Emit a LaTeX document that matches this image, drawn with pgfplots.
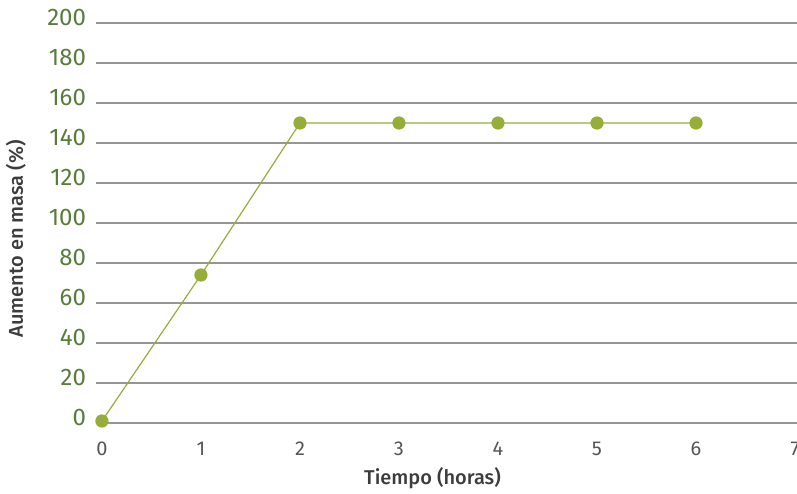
\documentclass[border=0pt]{standalone}
\usepackage{fontspec}
\setmainfont{Fira Sans}[BoldFont={Fira Sans Medium}]
\usepackage{pgfplots}
\pgfplotsset{compat=1.18}

\definecolor{tickgreen}{RGB}{88,125,58}
\definecolor{linegreen}{RGB}{150,173,57}
\definecolor{labelgray}{RGB}{60,60,60}
\definecolor{xtickgray}{RGB}{85,85,85}
\definecolor{gridgray}{RGB}{150,150,150}

\begin{document}
\begin{tikzpicture}
  \begin{axis}[
    name=ax,
    scale only axis,
    width=350.5pt, height=200pt,
    xmin=-0.06, xmax=7.02,
    ymin=0, ymax=200,
    xtick={0,1,...,7},
    ytick={0,20,...,200},
    axis line style={draw=none},
    major tick length=0pt,
    ymajorgrids,
    grid style={gridgray, line width=0.55pt},
    /pgf/number format/assume math mode=true,
    yticklabel style={font=\fontsize{12}{12}\selectfont, text=tickgreen,
                      xshift=-1.5pt, yshift=3pt},
    xticklabel style={font=\fontsize{10}{10}\selectfont, text=xtickgray,
                      yshift=-6pt},
    xlabel={Tiempo (horas)},
    ylabel={Aumento en masa (\%)},
    label style={font=\fontsize{10}{10}\selectfont\bfseries, text=labelgray},
    xlabel style={at={(axis description cs:0.48,0)}, anchor=center, yshift=-27.5pt},
    ylabel style={at={(axis description cs:0,0.46)}, anchor=center, yshift=40pt},
    clip=false,
  ]
    % Aumento de masa frente al tiempo
    \addplot[linegreen, line width=0.6pt, mark=*,
             mark size=3pt, mark options={fill=linegreen, draw=linegreen}]
      coordinates {
        (0,1) (1,74) (2,150) (3,150) (4,150) (5,150) (6,150)
      };
  \end{axis}
  \pgfresetboundingbox
  \path ([xshift=-48pt,yshift=-35pt]ax.south west)
        rectangle ([yshift=11.5pt]ax.north east);
\end{tikzpicture}
\end{document}
